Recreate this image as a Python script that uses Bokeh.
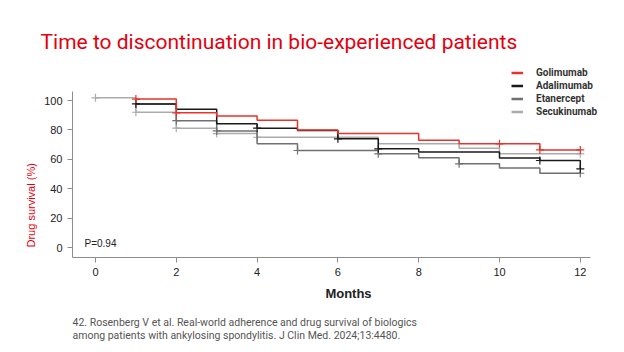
import math
from bokeh.plotting import figure
from bokeh.models import Range1d, Label, Legend, LegendItem, FixedTicker, Title
from bokeh.embed import file_html
from bokeh.resources import INLINE

# ---- data ----
series_names = ["Golimumab", "Adalimumab", "Etanercept", "Secukinumab"]

gol_months = [1, 2, 3, 4, 5, 6, 8, 9, 11, 12]
gol_values = [101.0, 91.6, 89.5, 86.5, 80.0, 77.5, 73.0, 70.5, 66.4, 66.4]
gol_cens_months = [1, 2, 10, 11, 12]
gol_cens_values = [101.0, 91.6, 70.5, 66.4, 66.4]

ada_months = [1, 2, 3, 4, 5, 6, 7, 8, 10, 11, 12]
ada_values = [97.7, 94.0, 84.1, 81.2, 79.6, 73.9, 67.1, 65.0, 60.8, 59.2, 53.5]
ada_cens_months = [1, 4, 6, 7, 11, 12]
ada_cens_values = [97.7, 81.2, 73.9, 67.1, 59.2, 53.5]

eta_months = [1, 2, 3, 4, 5, 7, 8, 9, 10, 11, 12]
eta_values = [97.7, 86.3, 79.3, 70.5, 66.0, 63.7, 61.0, 56.9, 54.0, 50.5, 50.5]
eta_cens_months = [2, 3, 5, 7, 9, 12]
eta_cens_values = [86.3, 79.3, 66.0, 63.7, 56.9, 50.5]

secu_months = [0, 1, 2, 3, 4, 7, 9, 10, 12]
secu_values = [101.8, 92.0, 81.2, 77.5, 75.0, 70.5, 67.5, 63.7, 63.7]
secu_cens_months = [0, 1, 2, 3, 4, 12]
secu_cens_values = [101.8, 92.0, 81.2, 77.5, 75.0, 63.7]

x_ticks = [0, 2, 4, 6, 8, 10, 12]
y_ticks = [0, 20, 40, 60, 80, 100]

title_text = "Time to discontinuation in bio-experienced patients"
y_label_text = "Drug survival (%)"
x_label_text = "Months"
p_text = "P=0.94"
footnote_lines = [
    "42. Rosenberg V et al. Real-world adherence and drug survival of biologics",
    "among patients with ankylosing spondylitis. J Clin Med. 2024;13:4480.",
]

colors = {"Golimumab": "#e8322b", "Adalimumab": "#1a1a1a",
          "Etanercept": "#707070", "Secukinumab": "#ababab"}

# ---- layout geometry (pixels) ----
W, H = 624, 352
FL, FR, FT, FB = 72, 624, 60, 257
X0_PX, PX_PER_MONTH = 95.0, 40.4
Y0_PX, PX_PER_PCT = 247.0, 1.47

def xr(px):
    return (px - X0_PX) / PX_PER_MONTH

def yr(py):
    return (Y0_PX - py) / PX_PER_PCT

p = figure(width=W, height=H, output_backend="svg", toolbar_location=None,
           x_range=Range1d(xr(FL), xr(FR)), y_range=Range1d(yr(FB), yr(FT)),
           min_border_left=FL, min_border_right=W - FR,
           min_border_top=FT, min_border_bottom=H - FB)
p.outline_line_color = None
p.xgrid.visible = False
p.ygrid.visible = False
p.background_fill_color = "white"
p.border_fill_color = "white"

tick_font = "'Liberation Sans', Arial, sans-serif"
title_font = "Roboto, sans-serif"
for ax in (p.xaxis[0], p.yaxis[0]):
    ax.axis_line_color = "#8c8c8c"
    ax.axis_line_width = 1
    ax.major_tick_line_color = "#8c8c8c"
    ax.major_tick_out = 5
    ax.major_tick_in = 0
    ax.minor_tick_line_color = None
    ax.major_label_text_font = tick_font
    ax.major_label_text_font_size = "11px"
    ax.major_label_text_color = "#222222"
p.xaxis.ticker = FixedTicker(ticks=x_ticks)
p.yaxis.ticker = FixedTicker(ticks=y_ticks)
p.xaxis.bounds = (xr(FL), xr(590))
p.yaxis.bounds = (yr(FB), yr(91))
p.xaxis.major_label_standoff = 5
p.yaxis.major_label_standoff = 5

p.xaxis.axis_label = x_label_text
p.xaxis.axis_label_text_font = tick_font
p.xaxis.axis_label_text_font_size = "13px"
p.xaxis.axis_label_text_font_style = "bold"
p.xaxis.axis_label_text_color = "#222222"
p.xaxis.axis_label_standoff = 7

series = [
    ("Secukinumab", secu_months, secu_values, secu_cens_months, secu_cens_values),
    ("Etanercept", eta_months, eta_values, eta_cens_months, eta_cens_values),
    ("Adalimumab", ada_months, ada_values, ada_cens_months, ada_cens_values),
    ("Golimumab", gol_months, gol_values, gol_cens_months, gol_cens_values),
]
for name, mx, vy, cx, cy in series:
    c = colors[name]
    p.step(x=mx, y=vy, mode="after", line_color=c, line_width=1.5)
    p.scatter(x=cx, y=cy, marker="cross", size=8, line_color=c, line_width=1.2)

# legend with proxy renderers (single NaN point, draws nothing on the plot)
legend_items = []
for name in series_names:
    r = p.line(x=[float("nan")], y=[float("nan")], line_color=colors[name], line_width=2.5)
    legend_items.append(LegendItem(label=name, renderers=[r]))
legend = Legend(items=legend_items, location=(511 - FL, FB - 118),
                glyph_width=12, glyph_height=13, label_height=13,
                spacing=0, padding=0, margin=0, label_standoff=13,
                label_text_font=title_font, label_text_font_size="10px",
                label_text_font_style="bold", label_text_color="#333333",
                border_line_alpha=0, background_fill_alpha=0)
p.add_layout(legend)

# title (above panel, shifted left of the frame)
p.title.text = title_text
p.title.align = "left"
p.title.offset = 40 - FL
p.title.standoff = 13
p.title.text_font = title_font
p.title.text_font_size = "21px"
p.title.text_font_style = "normal"
p.title.text_color = "#e3000f"

# y label as a title in the left panel
p.add_layout(Title(text=y_label_text, align="left", offset=10,
                   text_font=tick_font, text_font_size="11px",
                   text_font_style="normal", text_color="#e3000f"), "left")

# P value inside the frame
p.add_layout(Label(x=84 - FL, y=FB - 243, x_units="screen", y_units="screen", text=p_text,
                   text_font=tick_font, text_font_size="10px",
                   text_color="#222222", text_align="left", text_baseline="middle"))

# footnote below the axis (two lines)
p.add_layout(Title(text="\n".join(footnote_lines), align="left", offset=0, standoff=21,
                   text_font=title_font, text_font_size="10.5px",
                   text_font_style="normal", text_color="#555555"), "below")

open("out.html", "w").write(file_html(p, INLINE))
